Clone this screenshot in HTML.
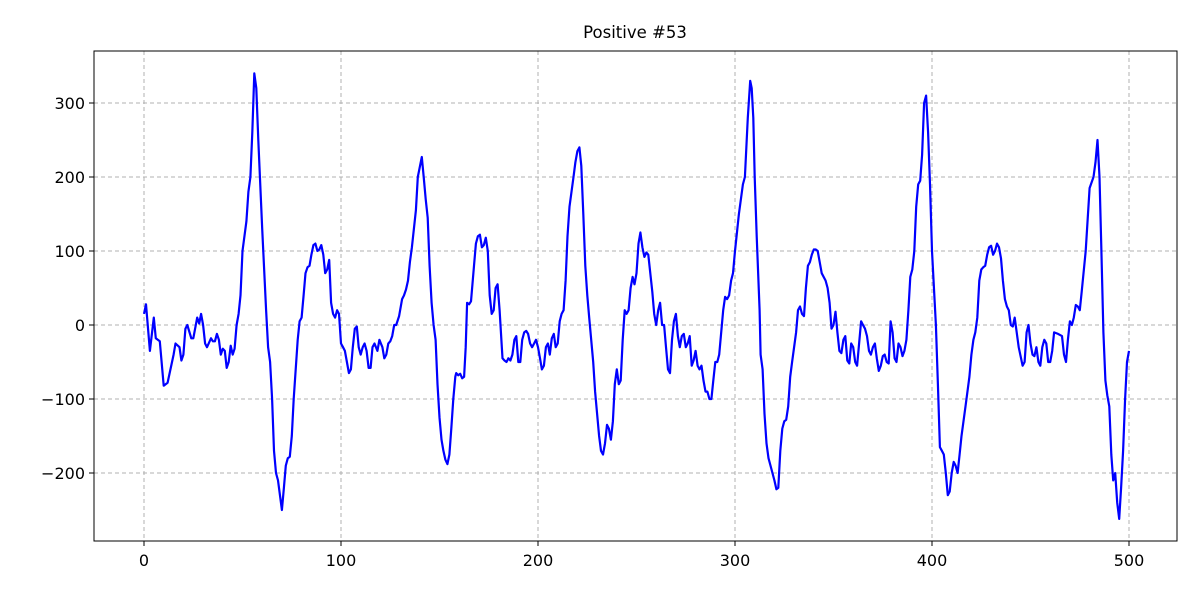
<!DOCTYPE html>
<html><head><meta charset="utf-8"><style>
html,body{margin:0;padding:0;background:#fff;}
svg text{font-family:"DejaVu Sans","Liberation Sans",sans-serif;}
</style></head><body>
<svg id="chart" width="1200" height="600" viewBox="0 0 1200 600" xmlns="http://www.w3.org/2000/svg">
<rect x="0" y="0" width="1200" height="600" fill="#fff"/>
<text x="635" y="38" font-size="16.5" text-anchor="middle" fill="#000">Positive #53</text>
<g id="grid"></g>
<g id="series"></g>
<rect x="94" y="51" width="1083" height="490" fill="none" stroke="#000" stroke-width="1"/>
<g id="ticks"></g>
</svg>
<script>
const xTicks = [0,100,200,300,400,500];
const yTicks = [-200,-100,0,100,200,300];
const yTickLabels = ["\u2212200","\u2212100","0","100","200","300"];
const sampleIndex = [0,1,3,5,6,8,10,12,15,16,18,19,20,21,22,24,25,27,28,29,30,31,32,34,35,36,37,38,39,40,41,42,43,44,45,46,47,48,49,50,52,53,54,55,56,57,58,60,62,63,64,65,66,67,68,70,71,72,73,74,75,76,77,78,79,80,81,82,83,84,85,86,87,88,89,90,91,92,93,94,95,96,97,98,99,100,101,102,103,104,
105,106,107,108,109,110,111,112,113,114,115,116,117,118.5,119.5,121,122,123,124,125,126,127,128,129.5,131,132,133,134,135,136,138,139,141,142,143,144,145,146,147,148,149,150,151,152,153,154,155,156,157,158,158.5,159.5,160.5,161.5,162.5,163.3,164,165,166,167.5,168.5,169.5,170.5,171.5,172.5,173.5,174.5,175.5,176.5,177.5,178.5,179.5,180.5,181.5,
182,183,184,185,186,187,188,189,190,191,192,193,194,195,196,197,198,199,200,201,202,203,204,205,206,207,208,209,210,211,212,213,214,215,216,218,219,220,221,222,223,224,225,226,228,229,230,231,232,233,234,235,236,237,238,239,240,241,242,243,244,245,246,247,248,249,250,251,252,253,254,255,256,257,258,259,260,261,262,263,264,265,266,267,268,269,270,271,272,273,274,275,276,277,278,279,280,281,282,283,284,285,286,287,288,289,290,291,292,293,294,295,296,297,298,299,300,302,304,305,306.5,307.7,308.5,309.3,310,311,312.5,313,314,315,316,317,318,320,321,322,323,324,325,326,327,328,329,330,331,332,333,334,335,336,337,338,339,340,341,342,343,344,346,347,348,349,350,351,352,353,354,355,356,357,358,359,360,361,362,363,364,365,366,367,368,369,370,371,372,373,374,375,376,377,378,379,380,381,382,383,384,385,386,387,388,389,390,391,392,393,394,395,396,397,398,399,400,402,403,404,405,406,407,408,409,410,411,412,413,414,415,417,419,420,421,422,423,424,425,426,427,428,429,430,431,432,433,434,435,436,437,438,439,440,441,442,443,444,446,447,448,449,450,451,452,453,454,455,456,457,458,459,460,461,462,464,466,467,468,469,470,471,472,473,474,475,476,478,480,482,483,484,485,486,487,488,489,490,491,492,493,494,495,496,497,498,499,500];
const amplitude = [15,28,-35,10,-18,-22,-82,-78,-40,-25,-30,-48,-40,-5,0,-18,-18,10,2,15,0,-25,-30,-18,-22,-22,-12,-20,-40,-32,-35,-58,-50,-28,-40,-32,0,15,40,100,140,180,200,260,340,320,250,130,20,-30,-50,-100,-170,-200,-210,-250,-220,-190,-180,-178,-150,-100,-60,-20,5,10,40,70,78,80,95,108,110,100,102,108,95,70,75,88,30,15,10,20,15,-25,-30,-35,-50,-65,
-60,-30,-5,-2,-30,-40,-30,-25,-35,-58,-58,-30,-25,-35,-20,-30,-45,-40,-25,-22,-15,0,0,12,35,40,48,60,85,105,155,200,227,200,170,145,80,30,0,-20,-80,-125,-155,-170,-182,-188,-175,-140,-100,-70,-65,-68,-66,-72,-70,-30,30,28,32,80,110,120,122,105,108,118,100,40,15,20,50,55,20,-25,
-45,-48,-50,-45,-48,-40,-20,-15,-50,-50,-20,-10,-8,-12,-25,-30,-25,-20,-30,-45,-60,-55,-30,-25,-40,-18,-12,-30,-25,5,15,20,60,120,160,200,220,235,240,215,150,80,40,10,-50,-90,-120,-150,-170,-175,-160,-135,-140,-155,-130,-80,-60,-80,-75,-20,20,15,20,50,65,55,70,110,125,105,92,98,95,70,45,15,0,20,30,0,0,-30,-60,-65,-20,5,15,-15,-30,-15,-12,-30,-25,-15,-55,-48,-35,-55,-60,-55,-75,-90,-90,-100,-100,-75,-50,-50,-40,-10,20,38,35,40,60,70,100,150,190,200,280,330,320,280,200,120,20,-40,-60,-120,-160,-180,-190,-210,-222,-220,-170,-140,-130,-128,-110,-70,-50,-30,-10,20,25,15,12,50,80,85,95,102,102,100,85,70,60,50,30,-5,0,18,-10,-35,-38,-20,-15,-48,-52,-25,-30,-50,-55,-25,5,0,-5,-15,-35,-40,-30,-25,-45,-62,-55,-42,-40,-50,-52,5,-10,-45,-50,-25,-30,-42,-35,-20,20,65,75,100,160,190,195,230,300,310,260,190,100,0,-80,-165,-170,-175,-200,-230,-225,-200,-185,-190,-200,-175,-150,-110,-70,-40,-20,-10,10,60,75,78,80,95,105,107,95,100,110,105,90,60,35,25,20,0,-2,10,-10,-30,-55,-50,-10,0,-25,-40,-42,-30,-50,-55,-30,-20,-25,-50,-50,-35,-10,-12,-15,-40,-50,-20,5,0,10,27,25,20,45,100,185,200,220,250,200,100,-10,-75,-95,-110,-175,-210,-200,-240,-262,-220,-170,-100,-50,-35];

const L=94,R=1177,T=51,B=541;
function xScale(v){return 144+(v-0)*(1129-144)/500;}
function yScale(v){return 325-v*(473-103)/500;}
const NS='http://www.w3.org/2000/svg';
const grid=document.getElementById('grid'),ticks=document.getElementById('ticks'),series=document.getElementById('series');
xTicks.forEach(function(t){
  const x=xScale(t);
  const g=document.createElementNS(NS,'line');
  
  
  g.setAttribute('x1',x);g.setAttribute('x2',x);g.setAttribute('y1',T);g.setAttribute('y2',B);
  g.setAttribute('stroke','#b0b0b0');g.setAttribute('stroke-dasharray','4,3');g.setAttribute('stroke-width','1');
  grid.appendChild(g);
  const tk=document.createElementNS(NS,'line');
  
  
  tk.setAttribute('x1',x);tk.setAttribute('x2',x);tk.setAttribute('y1',B);tk.setAttribute('y2',B+5);tk.setAttribute('stroke','#000');
  ticks.appendChild(tk);
  const tx=document.createElementNS(NS,'text');
  
  
  tx.setAttribute('x',x);tx.setAttribute('y',B+25);tx.setAttribute('font-size','16');tx.setAttribute('text-anchor','middle');
  tx.textContent=String(t);
  ticks.appendChild(tx);
});
yTicks.forEach(function(t,i){
  const y=yScale(t);
  const g=document.createElementNS(NS,'line');
  
  
  g.setAttribute('x1',L);g.setAttribute('x2',R);g.setAttribute('y1',y);g.setAttribute('y2',y);
  g.setAttribute('stroke','#b0b0b0');g.setAttribute('stroke-dasharray','4,3');g.setAttribute('stroke-width','1');
  grid.appendChild(g);
  const tk=document.createElementNS(NS,'line');
  
  
  tk.setAttribute('x1',L-5);tk.setAttribute('x2',L);tk.setAttribute('y1',y);tk.setAttribute('y2',y);tk.setAttribute('stroke','#000');
  ticks.appendChild(tk);
  const tx=document.createElementNS(NS,'text');
  
  
  tx.setAttribute('x',L-9);tx.setAttribute('y',y+6);tx.setAttribute('font-size','16');tx.setAttribute('text-anchor','end');
  tx.textContent=yTickLabels[i];
  ticks.appendChild(tx);
});
let d='';
for(let i=0;i<sampleIndex.length && i<amplitude.length;i++){
  d+=(i?'L':'M')+xScale(sampleIndex[i]).toFixed(1)+','+yScale(amplitude[i]).toFixed(1);
}
const p=document.createElementNS(NS,'path');


p.setAttribute('d',d);p.setAttribute('fill','none');p.setAttribute('stroke','#0000ff');p.setAttribute('stroke-width','2.2');p.setAttribute('stroke-linejoin','round');
series.appendChild(p);
</script>
</body></html>
